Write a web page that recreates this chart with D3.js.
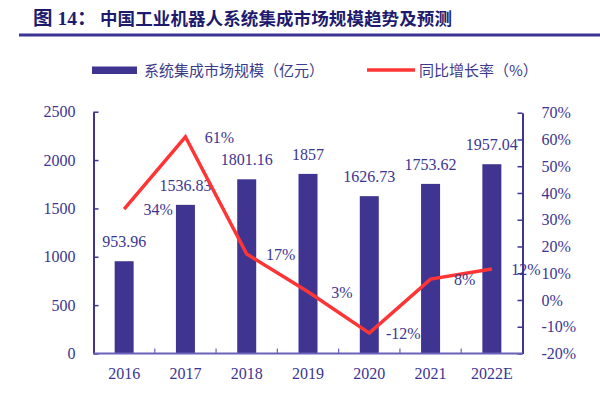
<!DOCTYPE html>
<html>
<head>
<meta charset="utf-8">
<script src="https://cdn.jsdelivr.net/npm/d3@7"></script>
<style>
  html, body { margin: 0; padding: 0; background: #fff; }
  svg { display: block; }
</style>
</head>
<body>
<svg id="chart" width="600" height="394"></svg>
<script>
const categories = ["2016", "2017", "2018", "2019", "2020", "2021", "2022E"];
const marketSize = [953.96, 1536.83, 1801.16, 1857, 1626.73, 1753.62, 1957.04];
const marketLabels = ["953.96", "1536.83", "1801.16", "1857", "1626.73", "1753.62", "1957.04"];
const growthRate = [0.34, 0.61, 0.172, 0.031, -0.124, 0.078, 0.116];
const growthLabels = ["34%", "61%", "17%", "3%", "-12%", "8%", "12%"];
const leftTicks = [0, 500, 1000, 1500, 2000, 2500];
const rightTicks = [-0.2, -0.1, 0, 0.1, 0.2, 0.3, 0.4, 0.5, 0.6, 0.7];
const titlePrefix = "图 14：";
const titleText = "中国工业机器人系统集成市场规模趋势及预测";
const legendBar = "系统集成市场规模（亿元）";
const legendLine = "同比增长率（%）";

const svg = d3.select("#chart");
const purple = "#3f3591";
const textColor = "#3b3592";
const red = "#ff3535";
const serif = "'Liberation Serif', 'Times New Roman', serif";
const cjk = "'Noto Sans CJK SC', sans-serif";

// Title
svg.append("text").attr("x", 33).attr("y", 25)
  .attr("font-family", "'Liberation Serif', 'Noto Sans CJK SC', serif")
  .attr("font-weight", 700).attr("font-size", 19.5).attr("fill", "#1e1b6e")
  .text(titlePrefix);
svg.append("text").attr("x", 100).attr("y", 25)
  .attr("font-family", cjk)
  .attr("font-weight", 700).attr("font-size", 17.5).attr("fill", "#1e1b6e")
  .style("letter-spacing", "0.1px")
  .text(titleText);
svg.append("rect").attr("x", 19).attr("y", 33.5).attr("width", 581).attr("height", 3).attr("fill", "#3c3494");

// Scales
const x = d3.scaleBand().domain(categories).range([93.5, 522.5]).paddingInner(0.69).paddingOuter(0.345);
const yL = d3.scaleLinear().domain([0, 2500]).range([353.5, 111.7]);
const yR = d3.scaleLinear().domain([-0.2, 0.7]).range([353.5, 112.7]);

// Bars
svg.append("g").selectAll("rect").data(categories).join("rect")
  .attr("x", d => x(d)).attr("width", x.bandwidth())
  .attr("y", (d, i) => yL(marketSize[i]))
  .attr("height", (d, i) => yL(0) - yL(marketSize[i]))
  .attr("fill", purple);

// Axes
const axL = svg.append("g").attr("transform", "translate(93.5,0)")
  .call(d3.axisLeft(yL).tickValues(leftTicks).tickFormat(d3.format("d")).tickSizeInner(-5).tickSizeOuter(0).tickPadding(18));
const axR = svg.append("g").attr("transform", "translate(522.5,0)")
  .call(d3.axisRight(yR).tickValues(rightTicks).tickFormat(d => Math.round(d * 100) + "%").tickSizeInner(-5).tickSizeOuter(0).tickPadding(19));
const axB = svg.append("g").attr("transform", "translate(0,353.5)");
axB.append("line").attr("x1", 93.5).attr("x2", 522.5).attr("stroke", "#6c62b8").attr("stroke-width", 2);
const step = x.step();
const x0 = x.range()[0];
axB.selectAll("line.tk").data(d3.range(1, categories.length)).join("line").attr("class", "tk")
  .attr("x1", i => x0 + step * i).attr("x2", i => x0 + step * i)
  .attr("y1", 0).attr("y2", -5).attr("stroke", "#6c62b8").attr("stroke-width", 1.2);
axB.selectAll("text").data(categories).join("text")
  .attr("x", d => x(d) + x.bandwidth() / 2).attr("y", 25)
  .attr("text-anchor", "middle").attr("font-family", serif).attr("font-size", 16).attr("fill", textColor)
  .text(d => d);

[axL, axR].forEach(a => {
  a.select(".domain").attr("stroke", purple).attr("stroke-width", 2);
  a.selectAll(".tick line").attr("stroke", purple).attr("stroke-width", 1.5);
  a.selectAll(".tick text").attr("font-family", serif).attr("font-size", 16).attr("fill", textColor);
});

// Bar value labels
svg.append("g").selectAll("text").data(categories).join("text")
  .attr("x", d => x(d) + x.bandwidth() / 2)
  .attr("y", (d, i) => yL(marketSize[i]) - 14)
  .attr("text-anchor", "middle").attr("font-family", serif).attr("font-size", 16).attr("fill", textColor)
  .text((d, i) => marketLabels[i]);

// Line
const cx = d => x(d) + x.bandwidth() / 2;
svg.append("path").datum(categories)
  .attr("d", d3.line().x(d => cx(d)).y((d, i) => yR(growthRate[i])))
  .attr("fill", "none").attr("stroke", red).attr("stroke-width", 3.5).attr("stroke-linejoin", "miter");

svg.append("g").selectAll("text").data(categories).join("text")
  .attr("x", d => cx(d) + 34)
  .attr("y", (d, i) => yR(growthRate[i]) + 6)
  .attr("text-anchor", "middle").attr("font-family", serif).attr("font-size", 16).attr("fill", textColor)
  .text((d, i) => growthLabels[i]);

// Legend
svg.append("rect").attr("x", 92).attr("y", 66.5).attr("width", 45).attr("height", 7.5).attr("fill", purple);
svg.append("text").attr("x", 144).attr("y", 75.5).attr("font-family", cjk).attr("font-size", 15).attr("fill", "#3c3a8c")
  .text(legendBar);
svg.append("line").attr("x1", 367).attr("x2", 415).attr("y1", 70).attr("y2", 70).attr("stroke", red).attr("stroke-width", 3.5);
svg.append("text").attr("x", 419).attr("y", 75.5).attr("font-family", cjk).attr("font-size", 15).attr("fill", "#3c3a8c")
  .text(legendLine);
</script>
</body>
</html>
